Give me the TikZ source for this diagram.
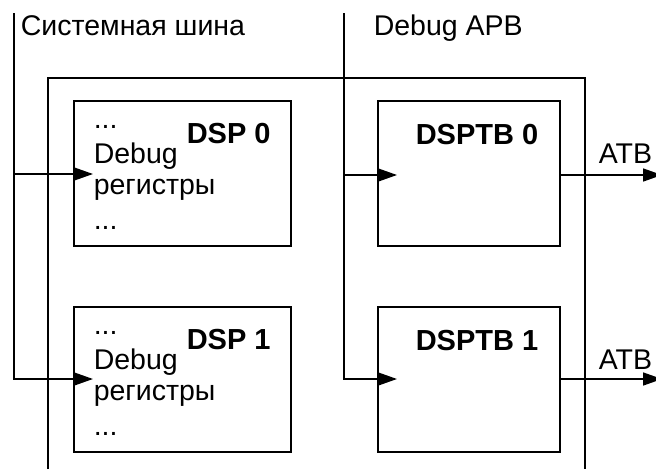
\documentclass[tikz,border=0pt]{standalone}
\usepackage{fontspec}
\setmainfont{Liberation Sans}
\usetikzlibrary{arrows.meta}
\begin{document}
\begin{tikzpicture}[x=1pt,y=-1pt,line width=1.6pt,
  blk/.style={draw, inner sep=0pt, minimum width=217pt, minimum height=145pt, anchor=north west},
  tbblk/.style={draw, inner sep=0pt, minimum width=182pt, minimum height=145pt, anchor=north west},
  lbl/.style={inner sep=0pt, anchor=base west, font=\fontsize{28.5}{32}\selectfont},
  blbl/.style={inner sep=0pt, anchor=base west, font=\fontsize{29}{32}\selectfont\bfseries},
  arr/.style={-{Triangle[length=19pt,width=13pt]}}]
\useasboundingbox (0,0) rectangle (656,469);
\coordinate (fbl) at (48,469);
\coordinate (ftl) at (48,78);
\coordinate (ftr) at (585,78);
\coordinate (fbr) at (585,469);
\draw (fbl) -- (ftl) -- (ftr) -- (fbr);
\node[blk] (dsp0) at (73,100) {};
\node[blk] (dsp1) at (73,306) {};
\node[tbblk] (tb0) at (377,100) {};
\node[tbblk] (tb1) at (377,306) {};
\node[lbl] (sbl) at (20,35) {Системная шина};
\node[lbl] (apbl) at (373,35) {Debug APB};
\node[lbl] (d0a) at (93,128) {...};
\node[lbl] (d0b) at (93,163) {Debug};
\node[lbl] (d0c) at (93,194) {регистры};
\node[lbl] (d0d) at (93,229) {...};
\node[blbl] (d0t) at (186,143) {DSP 0};
\node[lbl] (d1a) at (93,334) {...};
\node[lbl] (d1b) at (93,369) {Debug};
\node[lbl] (d1c) at (93,400) {регистры};
\node[lbl] (d1d) at (93,435) {...};
\node[blbl] (d1t) at (186,349) {DSP 1};
\node[blbl] (t0t) at (415,144) {DSPTB 0};
\node[blbl] (t1t) at (415,350) {DSPTB 1};
\node[lbl] (atb0) at (598,163) {ATB};
\node[lbl] (atb1) at (598,369) {ATB};
\coordinate (sbtop) at (14,13);
\coordinate (sb0) at (14,174);
\coordinate (in0) at (93,174);
\coordinate (in1) at (93,379);
\draw[arr] (sbtop) |- (in1);
\draw[arr] (sb0) -- (in0);
\coordinate (apbtop) at (344,13);
\coordinate (apb0) at (344,175);
\coordinate (tin0) at (397,175);
\coordinate (tin1) at (397,379);
\draw[arr] (apbtop) |- (tin1);
\draw[arr] (apb0) -- (tin0);
\coordinate (out0) at (662,175);
\coordinate (out1) at (662,379);
\draw[arr] (tb0.east |- out0) -- (out0);
\draw[arr] (tb1.east |- out1) -- (out1);
\end{tikzpicture}
\end{document}
